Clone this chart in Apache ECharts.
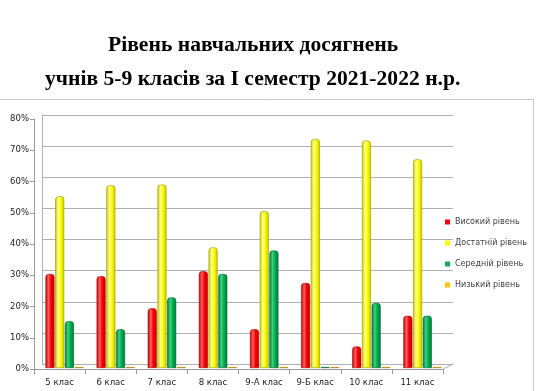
<!DOCTYPE html>
<html><head><meta charset="utf-8">
<script src="https://cdn.jsdelivr.net/npm/echarts@6/dist/echarts.min.js"></script>
<style>html,body{margin:0;padding:0;background:#fff}#c{width:541px;height:391px}</style>
</head><body><div id="c"></div>
<script>
const categories = ['5 клас','6 клас','7 клас','8 клас','9-А клас','9-Б клас','10 клас','11 клас'];
const seriesNames = ['Високий рівень','Достатній рівень','Середній рівень','Низький рівень'];
const high = [30.1, 29.4, 19.1, 31.0, 12.4, 27.2, 6.9, 16.7];
const sufficient = [55.0, 58.5, 58.7, 38.6, 50.2, 73.3, 72.8, 66.8];
const medium = [15.0, 12.4, 22.6, 30.1, 37.6, 0.3, 20.8, 16.7];
const low = [0.3, 0.3, 0.3, 0.3, 0.3, 0.3, 0.3, 0.3];
const yTicks = [0, 10, 20, 30, 40, 50, 60, 70, 80];
const titleLines = ['Рівень навчальних досягнень', 'учнів 5-9 класів за I семестр 2021-2022 н.р.'];

function grad(dark, mid, light) {
  return new echarts.graphic.LinearGradient(0, 0, 1, 0, [
    {offset: 0, color: dark}, {offset: 0.35, color: light}, {offset: 0.6, color: mid}, {offset: 1, color: dark}
  ]);
}
const colors = [
  {fill: grad('#c00000', '#ff0000', '#ff6060'), border: '#a00000', legend: '#ff0000'},
  {fill: grad('#c8c800', '#ffff00', '#ffff90'), border: '#9a9a00', legend: '#ffff00'},
  {fill: grad('#007a38', '#00b050', '#40d080'), border: '#006030', legend: '#00b050'},
  {fill: grad('#c08000', '#ffc000', '#ffd860'), border: '#b07800', legend: '#ffc000'}
];
const dataSets = [high, sufficient, medium, low];

const titleStyle = {fontFamily: 'Liberation Serif', fontWeight: 'bold', fontSize: 21.6, color: '#000'};
const chart = echarts.init(document.getElementById('c'), null, {renderer: 'canvas'});
const option = {
  backgroundColor: '#fff',
  animation: false,
  title: [
    {text: titleLines[0], left: 108, top: 34, padding: 0, textStyle: titleStyle},
    {text: titleLines[1], left: 45, top: 68, padding: 0, textStyle: titleStyle}
  ],
  legend: {
    orient: 'vertical', left: 440, top: 213, itemWidth: 5, itemHeight: 5, itemGap: 13,
    icon: 'rect',
    textStyle: {fontFamily: 'DejaVu Sans', fontSize: 8, color: '#404040'},
    data: seriesNames.map((n, i) => ({name: n, itemStyle: {color: colors[i].legend, borderWidth: 0, borderRadius: 0}}))
  },
  grid: [
    {left: 42, right: 88, top: 115, bottom: 27},
    {left: 34, right: 98, top: 119, bottom: 22},
    {left: 39, right: 93, top: 118, bottom: 23}
  ],
  xAxis: [
    {gridIndex: 0, type: 'category', data: categories, show: false},
    {gridIndex: 1, type: 'category', data: categories,
      axisLine: {lineStyle: {color: '#999'}},
      axisTick: {show: true, length: 5, lineStyle: {color: '#999'}},
      axisLabel: {fontFamily: 'DejaVu Sans', fontSize: 8.5, color: '#222', margin: 9}
    },
    {gridIndex: 2, type: 'category', data: categories, show: false}
  ],
  yAxis: [
    {gridIndex: 0, type: 'value', min: 0, max: 80, interval: 10,
      axisLabel: {show: false}, axisTick: {show: false},
      axisLine: {show: true, lineStyle: {color: '#b0b0b0'}},
      splitLine: {lineStyle: {color: '#b0b0b0', width: 1}}
    },
    {gridIndex: 1, type: 'value', min: 0, max: 80, interval: 10,
      axisLine: {show: true, lineStyle: {color: '#999'}},
      axisTick: {show: true, length: 4, lineStyle: {color: '#999'}},
      splitLine: {show: false},
      axisLabel: {fontFamily: 'DejaVu Sans', fontSize: 8.5, color: '#222', margin: 5,
        formatter: v => (yTicks.indexOf(v) >= 0 ? v + '%' : '')}
    },
    {gridIndex: 2, type: 'value', min: 0, max: 80, interval: 10, show: false, splitLine: {show: false}}
  ],
  series: dataSets.map((d, i) => ({
    name: seriesNames[i], type: 'bar', xAxisIndex: 2, yAxisIndex: 2,
    data: d, barWidth: 9, barGap: '8%',
    itemStyle: {color: colors[i].fill, borderColor: colors[i].border, borderWidth: 0.6, borderRadius: [3,3,0,0]}
  })),
  graphic: [
    {type: 'line', shape: {x1: 0, y1: 99.5, x2: 533, y2: 99.5}, style: {stroke: '#c8c8c8', lineWidth: 1}},
    {type: 'line', shape: {x1: 533.5, y1: 99, x2: 533.5, y2: 391}, style: {stroke: '#c8c8c8', lineWidth: 1}},
    {type: 'line', shape: {x1: 443, y1: 369, x2: 453, y2: 364}, style: {stroke: '#b0b0b0', lineWidth: 1}}
  ]
};
chart.setOption(option);
</script></body></html>
